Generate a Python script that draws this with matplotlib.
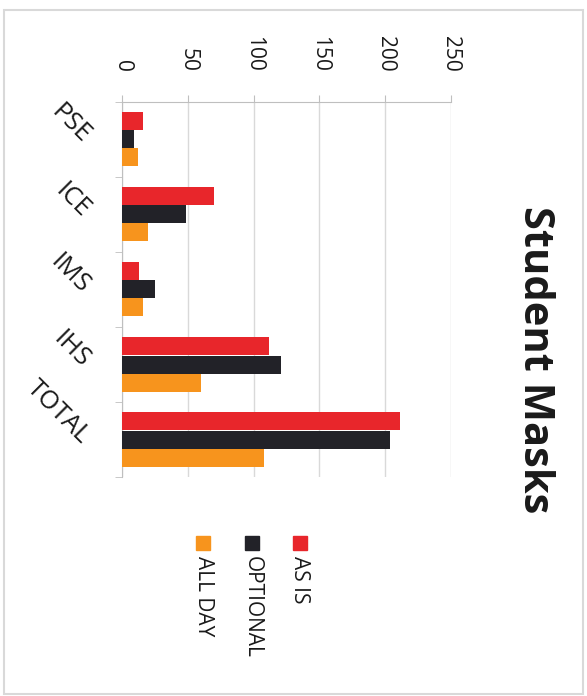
import matplotlib.pyplot as plt
import matplotlib.patches as mpatches
import numpy as np

plt.rcParams['font.family'] = ['Open Sans', 'DejaVu Sans']

categories = ['PSE', 'ICE', 'IMS', 'IHS', 'TOTAL']
series_names = ['AS IS', 'OPTIONAL', 'ALL DAY']
series_colors = ['#e8262b', '#222228', '#f7941d']
as_is = [16, 70, 13, 112, 211]
optional = [9, 49, 25, 121, 204]
all_day = [12, 20, 16, 60, 108]
value_ticks = [0, 50, 100, 150, 200, 250]

W, H = 587, 696
fig = plt.figure(figsize=(W / 100, H / 100), dpi=100)

# plot area in pixel coords of the reference
left, right, top, bottom = 122, 451, 102, 477
ax = fig.add_axes([left / W, 1 - bottom / H, (right - left) / W, (bottom - top) / H])

y = np.arange(len(categories))
bar_h = 0.24
for i, (vals, col) in enumerate(zip([as_is, optional, all_day], series_colors)):
    ax.barh(y + (i - 1) * bar_h, vals, height=bar_h, color=col, zorder=3)

ax.set_xlim(0, 250)
ax.set_ylim(len(categories) - 0.5, -0.5)

# value axis on top, labels rotated like the reference
ax.xaxis.tick_top()
ax.set_xticks(value_ticks)
ax.set_xticklabels([str(v) for v in value_ticks], rotation=-90, fontsize=15,
                   color='#1a1a1a')
ax.tick_params(axis='x', length=5, color='#bfbfbf', pad=17)
ax.grid(axis='x', color='#d9d9d9', linewidth=1, zorder=0)

# category axis on the left
ax.set_yticks(y)
ax.set_yticklabels(categories, fontsize=18.5, color='#1a1a1a')
ax.tick_params(axis='y', which='major', length=0, pad=26)
for lbl in ax.get_yticklabels():
    lbl.set_rotation(-45)
    lbl.set_rotation_mode('anchor')
    lbl.set_ha('right')
    lbl.set_va('center')
ax.set_yticks(np.arange(len(categories) + 1) - 0.5, minor=True)
ax.tick_params(axis='y', which='minor', length=5, color='#bfbfbf')

for side in ['right', 'bottom']:
    ax.spines[side].set_visible(False)
ax.spines['top'].set_color('#bfbfbf')
ax.spines['left'].set_color('#bfbfbf')

# title on the right, reading top to bottom
fig.text(535 / W, 1 - 360 / H, 'Student Masks', rotation=-90, fontsize=30,
         fontweight='bold', color='#1a1a1a', ha='center', va='center')

# legend: one marker plus rotated text per series, right to left
leg_x = [300, 252, 203]
for name, col, lx in zip(series_names, series_colors, leg_x):
    fig.patches.append(mpatches.Rectangle(((lx - 7) / W, 1 - 550 / H), 14 / W, 14 / H,
                                          transform=fig.transFigure, color=col))
    fig.text(lx / W, 1 - 556 / H, name, rotation=-90, fontsize=15,
             ha='center', va='top', color='#1a1a1a')

# light frame around the whole chart
fig.patches.append(mpatches.Rectangle((4 / W, 2 / H), 579 / W, 684 / H,
                                      transform=fig.transFigure, fill=False,
                                      edgecolor='#d9d9d9', linewidth=1.5))

fig.savefig('out.png', dpi=100)
